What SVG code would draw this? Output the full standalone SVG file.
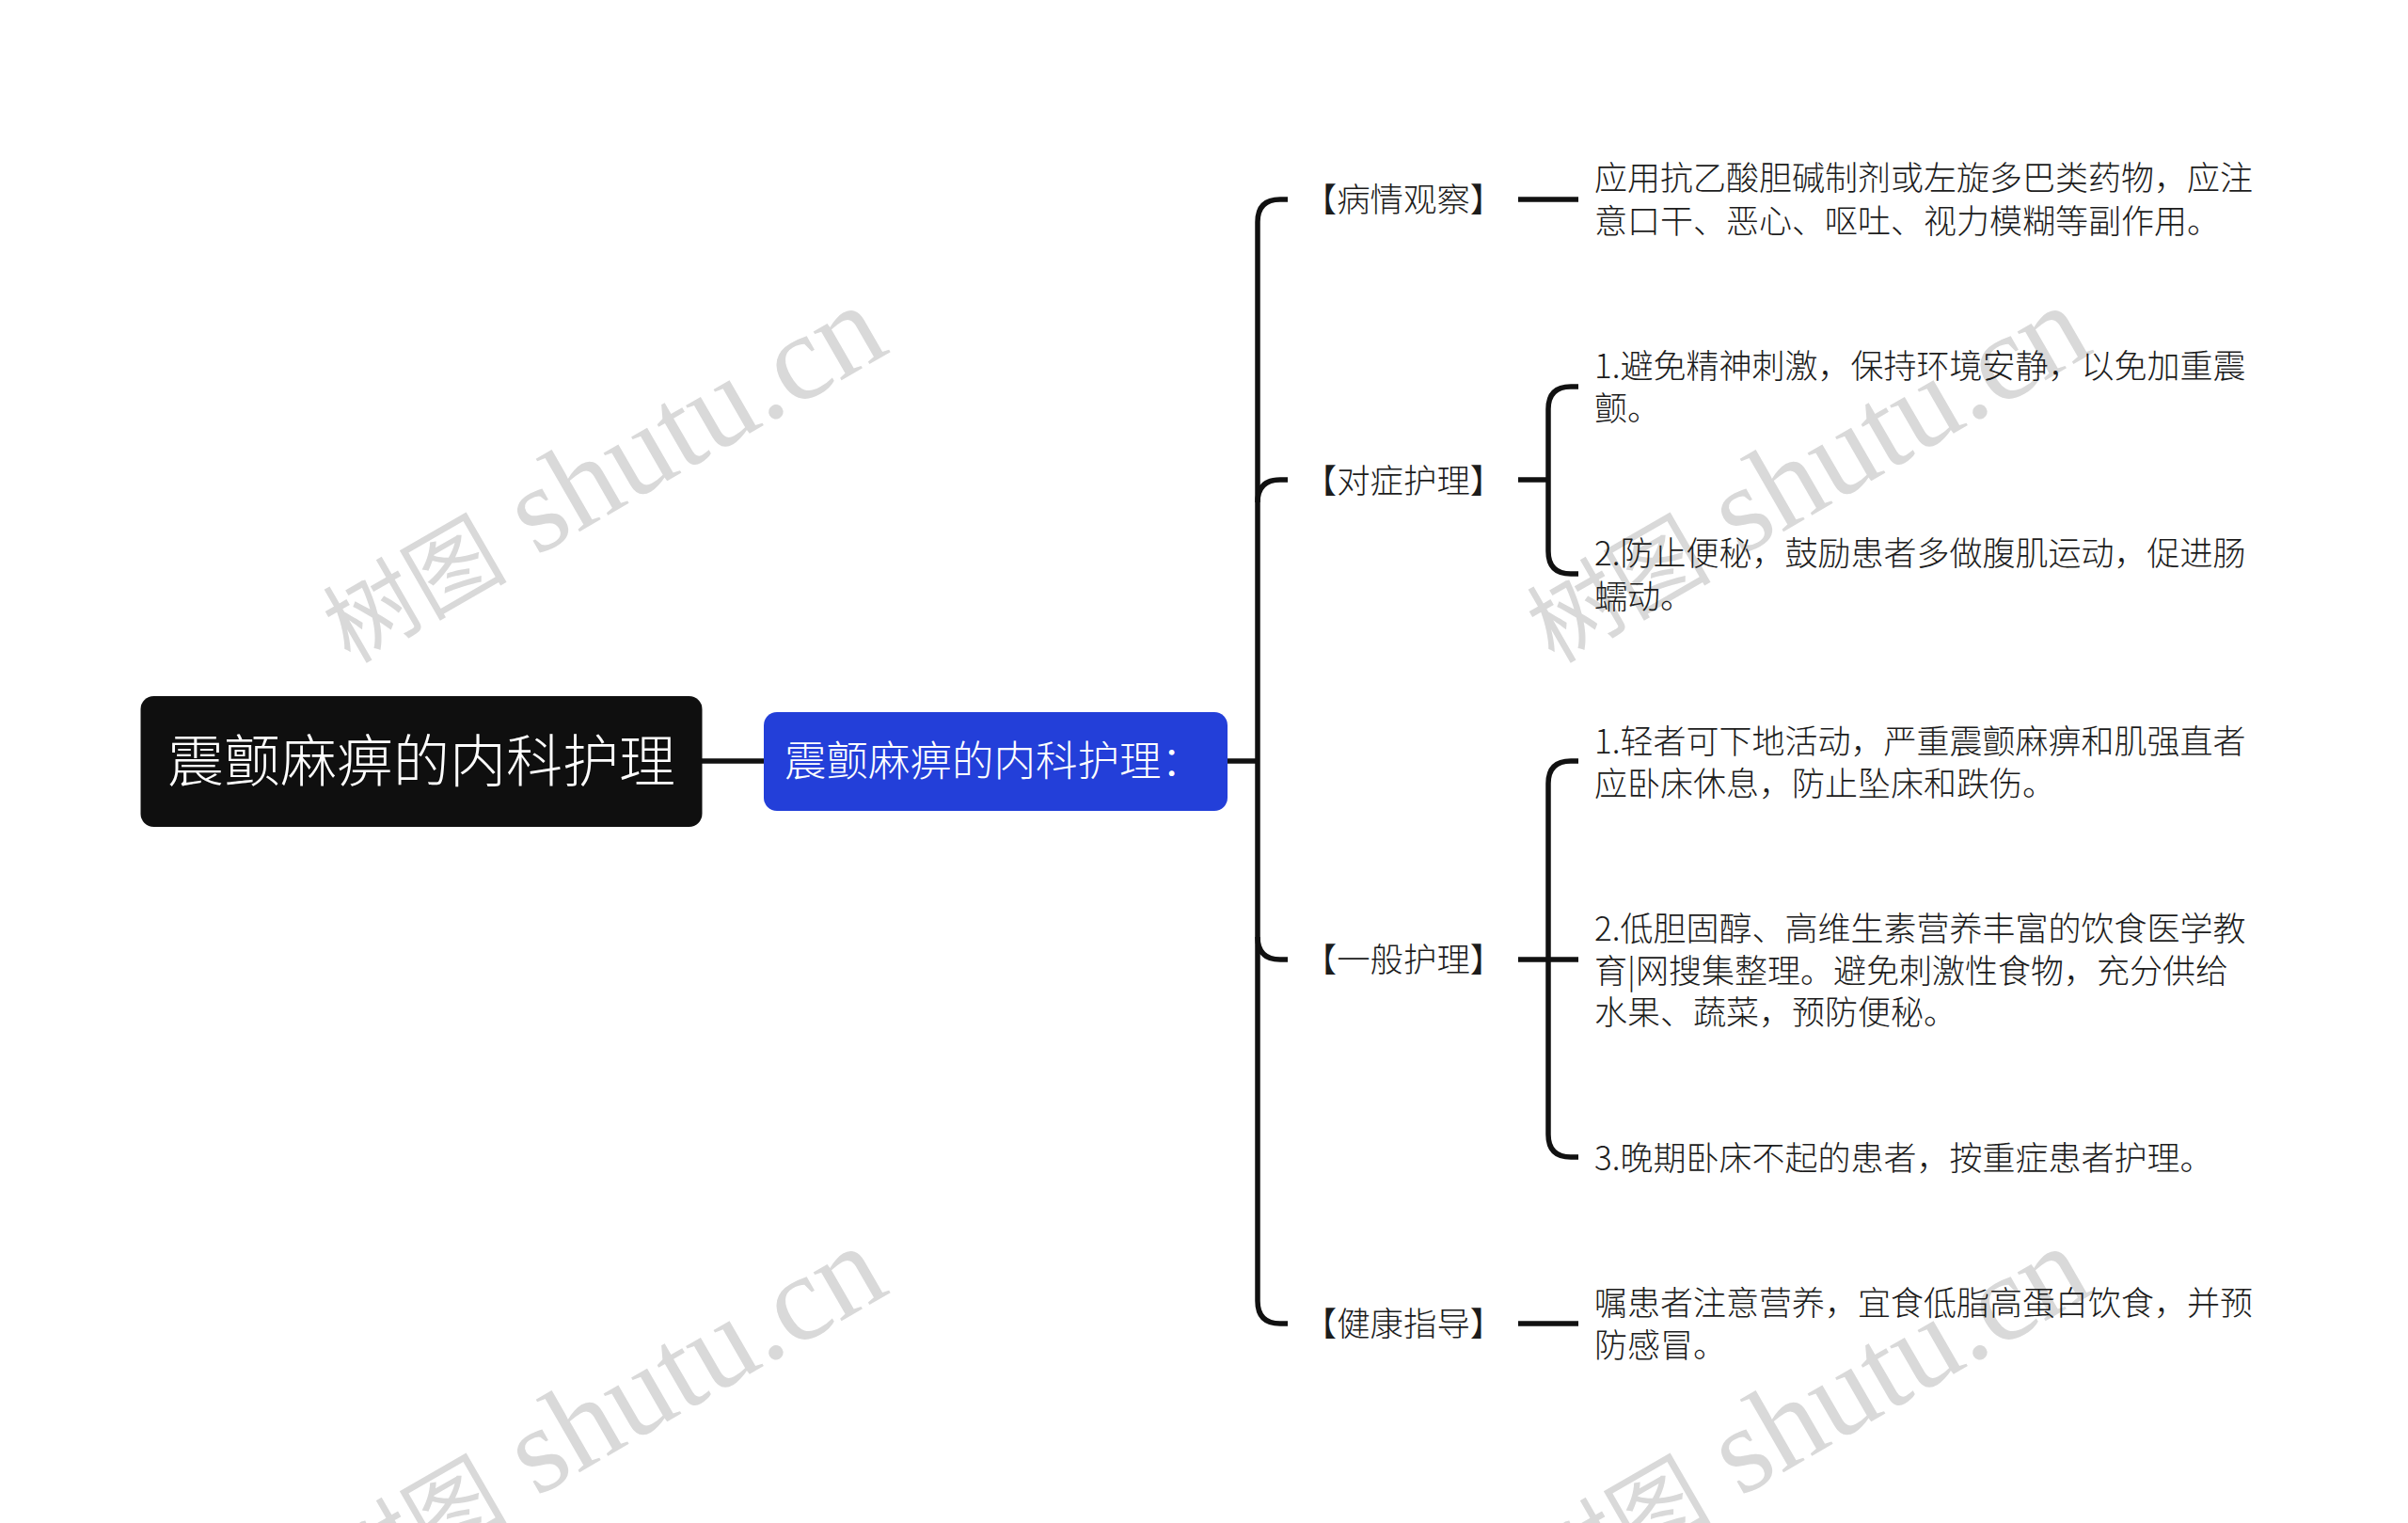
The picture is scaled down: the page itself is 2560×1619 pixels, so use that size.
<svg xmlns="http://www.w3.org/2000/svg" width="2560" height="1619" viewBox="0 0 2560 1619">
<style>
text{font-family:"Noto Sans CJK SC","Noto Sans",sans-serif;font-weight:300}
.t{font-size:35px;fill:#1c1c1c}
.l{font-size:35.4px;fill:#1c1c1c;text-anchor:middle}
.c{fill:none;stroke:#111;stroke-width:5.5}
.w{font-family:"Liberation Serif","Noto Sans CJK SC",serif;font-size:130px;fill:#d9d9d9;font-weight:400}
.w .z{font-size:98px}
</style>
<rect width="2560" height="1619" fill="#fff"/>
<g id="watermarks">
<text class="w" transform="translate(372 706) rotate(-30)"><tspan class="z">树图</tspan> shutu.cn</text>
<text class="w" transform="translate(1652 706) rotate(-30)"><tspan class="z">树图</tspan> shutu.cn</text>
<text class="w" transform="translate(372 1706) rotate(-30)"><tspan class="z">树图</tspan> shutu.cn</text>
<text class="w" transform="translate(1652 1706) rotate(-30)"><tspan class="z">树图</tspan> shutu.cn</text>
</g>
<g id="connectors">
<path class="c" d="M746 809H812"/>
<path class="c" d="M1304 809H1337"/>
<path class="c" d="M1369 212H1361Q1337 212 1337 236V1383Q1337 1407 1361 1407H1369"/>
<path class="c" d="M1369 510H1361Q1337 510 1337 534"/>
<path class="c" d="M1369 1020H1361Q1337 1020 1337 996"/>
<path class="c" d="M1614 212H1678"/>
<path class="c" d="M1614 510H1646"/>
<path class="c" d="M1678 411H1670Q1646 411 1646 435V586Q1646 610 1670 610H1678"/>
<path class="c" d="M1614 1020H1678"/>
<path class="c" d="M1678 809H1670Q1646 809 1646 833V1206Q1646 1230 1670 1230H1678"/>
<path class="c" d="M1614 1407H1678"/>
</g>
<g id="root"><rect x="149.500" y="740" width="597" height="139" rx="14" fill="#0f0f0f"/>
<text x="448" y="831" font-size="60" text-anchor="middle" fill="#fff">震颤麻痹的内科护理</text></g>
<g id="topic"><rect x="812" y="757" width="493" height="105" rx="14" fill="#233fd9"/>
<text x="834" y="825" font-size="44.500" fill="#fff">震颤麻痹的内科护理：</text></g>
<g id="b1"><text class="l" x="1492" y="225">【病情观察】</text></g>
<g id="b2"><text class="l" x="1492" y="524">【对症护理】</text></g>
<g id="b3"><text class="l" x="1492" y="1033">【一般护理】</text></g>
<g id="b4"><text class="l" x="1492" y="1420">【健康指导】</text></g>
<g id="n1"><text class="t" x="1695" y="202">应用抗乙酸胆碱制剂或左旋多巴类药物，应注</text><text class="t" x="1695" y="248">意口干、恶心、呕吐、视力模糊等副作用。</text></g>
<g id="n2"><text class="t" x="1695" y="402">1.避免精神刺激，保持环境安静，以免加重震</text><text class="t" x="1695" y="447">颤。</text></g>
<g id="n3"><text class="t" x="1695" y="601">2.防止便秘，鼓励患者多做腹肌运动，促进肠</text><text class="t" x="1695" y="647">蠕动。</text></g>
<g id="n4"><text class="t" x="1695" y="801">1.轻者可下地活动，严重震颤麻痹和肌强直者</text><text class="t" x="1695" y="846">应卧床休息，防止坠床和跌伤。</text></g>
<g id="n5"><text class="t" x="1695" y="1000">2.低胆固醇、高维生素营养丰富的饮食医学教</text><text class="t" x="1695" y="1045">育|网搜集整理。避免刺激性食物，充分供给</text><text class="t" x="1695" y="1089">水果、蔬菜，预防便秘。</text></g>
<g id="n6"><text class="t" x="1695" y="1244">3.晚期卧床不起的患者，按重症患者护理。</text></g>
<g id="n7"><text class="t" x="1695" y="1398">嘱患者注意营养，宜食低脂高蛋白饮食，并预</text><text class="t" x="1695" y="1443">防感冒。</text></g>
</svg>
